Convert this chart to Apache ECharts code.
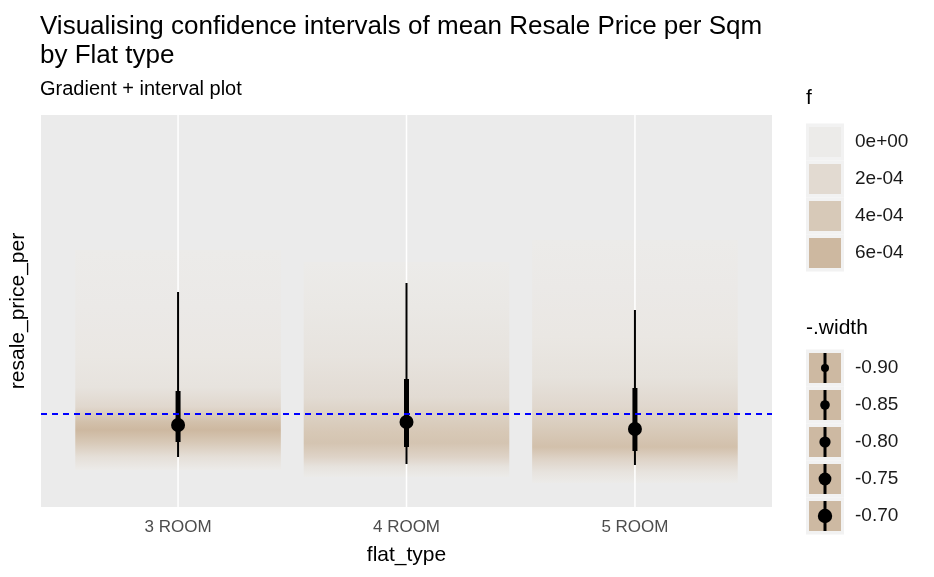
<!DOCTYPE html>
<html><head><meta charset="utf-8">
<script src="https://cdn.jsdelivr.net/npm/echarts@6/dist/echarts.min.js"></script>
<style>html,body{margin:0;padding:0;background:#fff}#c{width:934px;height:577px}</style>
</head><body><div id="c"></div>
<script>
const categories = ['3 ROOM', '4 ROOM', '5 ROOM'];
const pointEst = [4820, 4850, 4780];
const thickLow = [4650, 4600, 4560];
const thickHigh = [5160, 5280, 5190];
const thinLow = [4500, 4430, 4420];
const thinHigh = [6150, 6240, 5970];
const meanLine = 4930;
// density profiles: [price, density] read from the gradient shading
const density3 = [[6570,0],[6000,0.00002],[5500,0.00005],[5200,0.0001],[5000,0.00025],[4850,0.00055],[4770,0.00065],[4650,0.00045],[4500,0.00015],[4370,0]];
const density4 = [[6450,0],[6000,0.00004],[5500,0.0001],[5100,0.0002],[4900,0.00035],[4750,0.00045],[4640,0.0005],[4500,0.0003],[4400,0.0001],[4300,0]];
const density5 = [[6670,0],[6200,0.00002],[5700,0.00005],[5300,0.00012],[5000,0.00025],[4800,0.0004],[4600,0.00055],[4480,0.0003],[4350,0.0001],[4240,0]];
const densities = [density3, density4, density5];
const fLegend = ['0e+00', '2e-04', '4e-04', '6e-04'];
const widthLegend = ['-0.90', '-0.85', '-0.80', '-0.75', '-0.70'];

const FONT = '"Liberation Sans", Arial, sans-serif';
function fColor(f){
  const t = Math.min(1, f/0.00065);
  const a=[236,235,233], b=[205,184,160];
  const c=a.map((v,i)=>Math.round(v+(b[i]-v)*t));
  return 'rgb('+c.join(',')+')';
}
const chart = echarts.init(document.getElementById('c'));
const gradData = categories.map((c,i)=>[i+1]);
const intData = categories.map((c,i)=>[i+1, pointEst[i], thickLow[i], thickHigh[i], thinLow[i], thinHigh[i]]);

const legendGraphics = [];
legendGraphics.push({type:'text', left:806, top:88, style:{text:'f', font:'21px '+FONT, fill:'#000'}});
fLegend.forEach((l,i)=>{
  const cy = 142 + i*37;
  legendGraphics.push({type:'rect', shape:{x:806,y:cy-18.5,width:38,height:37}, style:{fill:'#F2F2F2'}});
  legendGraphics.push({type:'rect', shape:{x:809,y:cy-15,width:32,height:30}, style:{fill:fColor(i*0.0002*1.08)}});
  legendGraphics.push({type:'text', left:855, top:cy-10, style:{text:l, font:'19px '+FONT, fill:'#1a1a1a'}});
});
legendGraphics.push({type:'text', left:806, top:318, style:{text:'-.width', font:'21px '+FONT, fill:'#000'}});
widthLegend.forEach((l,i)=>{
  const cy = 368 + i*37;
  const r = 4 + i*0.8;
  legendGraphics.push({type:'rect', shape:{x:806,y:cy-18.5,width:38,height:37}, style:{fill:'#F2F2F2'}});
  legendGraphics.push({type:'rect', shape:{x:809,y:cy-15,width:32,height:30}, style:{fill:'#CDB9A2'}});
  legendGraphics.push({type:'line', shape:{x1:825,y1:cy-15,x2:825,y2:cy+15}, style:{stroke:'#000',lineWidth:3}});
  legendGraphics.push({type:'circle', shape:{cx:825,cy:cy,r:r}, style:{fill:'#000'}});
  legendGraphics.push({type:'text', left:855, top:cy-10, style:{text:l, font:'19px '+FONT, fill:'#1a1a1a'}});
});

chart.setOption({
  animation:false,
  backgroundColor:'#fff',
  title:[
    {text:'Visualising confidence intervals of mean Resale Price per Sqm\nby Flat type', left:35, top:7, padding:5,
     textStyle:{fontSize:26, fontWeight:'normal', color:'#000', fontFamily:FONT, lineHeight:29}},
    {text:'Gradient + interval plot', left:35, top:74, textStyle:{fontSize:20, fontWeight:'normal', color:'#000', fontFamily:FONT}}
  ],
  grid:{left:40, right:162, top:115, bottom:70, show:true, backgroundColor:'#EBEBEB', borderWidth:0},
  xAxis:{type:'value', min:0.4, max:3.6, interval:0.2, name:'flat_type', nameLocation:'middle', nameGap:38,
    nameTextStyle:{fontSize:21, color:'#000', fontFamily:FONT},
    axisLine:{show:false}, axisTick:{show:false}, splitLine:{show:false},
    axisLabel:{fontSize:17, color:'#4D4D4D', margin:12, fontFamily:FONT, showMinLabel:false, showMaxLabel:false,
      formatter:function(v){const k=Math.round(v); return Math.abs(v-k)<1e-6 && k>=1 && k<=3 ? categories[k-1] : '';}}},
  yAxis:{type:'value', min:4000, max:7920, name:'resale_price_per', nameLocation:'middle', nameGap:12,
    nameTextStyle:{fontSize:21, color:'#000', fontFamily:FONT},
    axisLine:{show:false}, axisTick:{show:false}, axisLabel:{show:false}, splitLine:{show:false}},
  series:[
    {type:'custom', data:gradData, silent:true, renderItem:function(params, api){
      const i = api.value(0);
      const d = densities[i-1];
      const top = api.coord([i, d[0][0]]), bot = api.coord([i, d[d.length-1][0]]);
      const w = api.size([0.9,0])[0];
      const h = bot[1]-top[1];
      const stops = d.map(p=>({offset:(api.coord([i,p[0]])[1]-top[1])/h, color:fColor(p[1])}));
      const cs = params.coordSys;
      return {type:'group', children:[
        {type:'rect', shape:{x:top[0]-w/2,y:top[1],width:w,height:h},
          style:{fill:new echarts.graphic.LinearGradient(0,0,0,1,stops)}},
        {type:'line', shape:{x1:top[0],y1:cs.y,x2:top[0],y2:cs.y+cs.height}, style:{stroke:'#fff',lineWidth:1.5}}
      ]};
    }},
    {type:'line', data:[], markLine:{silent:true, symbol:'none', label:{show:false},
      lineStyle:{color:'#0000FF', type:[6,5], width:1.8}, data:[{yAxis:meanLine}]}},
    {type:'custom', data:intData, renderItem:function(params, api){
      const i = api.value(0);
      const p = api.coord([i, api.value(1)]);
      const tl = api.coord([i, api.value(2)]), th = api.coord([i, api.value(3)]);
      const nl = api.coord([i, api.value(4)]), nh = api.coord([i, api.value(5)]);
      return {type:'group', children:[
        {type:'line', shape:{x1:p[0],y1:nh[1],x2:p[0],y2:nl[1]}, style:{stroke:'#000',lineWidth:2}},
        {type:'line', shape:{x1:p[0],y1:th[1],x2:p[0],y2:tl[1]}, style:{stroke:'#000',lineWidth:5}},
        {type:'circle', shape:{cx:p[0],cy:p[1],r:7}, style:{fill:'#000'}}
      ]};
    }}
  ],
  graphic: legendGraphics
});
</script></body></html>
